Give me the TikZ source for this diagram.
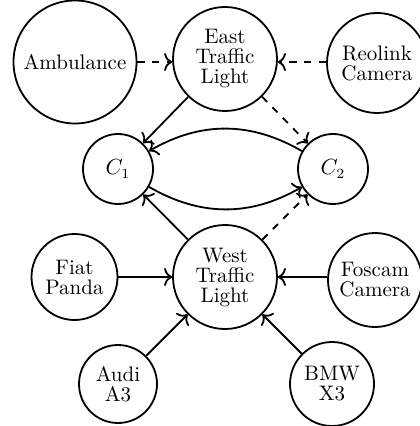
\documentclass[tikz,border=0pt]{standalone}
\usetikzlibrary{arrows.meta}
\begin{document}
\begin{tikzpicture}[x=0.5pt,y=-0.5pt,
  nd/.style={draw,circle,line width=0.9pt,inner sep=0pt,align=center,font=\fontsize{10.5}{10}\selectfont},
  conn/.style={line width=0.9pt,-{To[length=4pt,width=9pt]}},
  dconn/.style={conn,dash pattern=on 3.6pt off 3.8pt}]
\useasboundingbox (0,0) rectangle (419,426);
\node[nd,minimum size=61.5pt] (amb) at (75,62) {Ambulance};
\node[nd,minimum size=52pt] (east) at (225,59) {East\\Traffic\\Light};
\node[nd,minimum size=50pt] (reo) at (377,63) {Reolink\\Camera};
\node[nd,minimum size=35pt] (c1) at (118,169) {$C_1$};
\node[nd,minimum size=35pt] (c2) at (333,169) {$C_2$};
\node[nd,minimum size=52pt] (west) at (225,277) {West\\Traffic\\Light};
\node[nd,minimum size=43pt] (fiat) at (74.5,277) {Fiat\\Panda};
\node[nd,minimum size=47pt] (fos) at (375,280) {Foscam\\Camera};
\node[nd,minimum size=39pt] (audi) at (118,384) {Audi\\A3};
\node[nd,minimum size=42pt] (bmw) at (332,384) {BMW\\X3};
\draw[dconn] (amb.east |- 0,62) -- (east.west |- 0,62);
\draw[dconn] (reo.west |- 0,62) -- (east.east |- 0,62);
\draw[conn] (east) -- (c1);
\draw[dconn] (east) -- (c2);
\draw[conn] (c2) to[bend right=30] (c1);
\draw[conn] (c1) to[bend right=30] (c2);
\draw[conn] (west) -- (c1);
\draw[dconn] (west) -- (c2);
\draw[conn] (fiat) -- (west);
\draw[conn] (fos.west |- 0,277) -- (west.east);
\draw[conn] (audi) -- (west);
\draw[conn] (bmw) -- (west);
\end{tikzpicture}
\end{document}
